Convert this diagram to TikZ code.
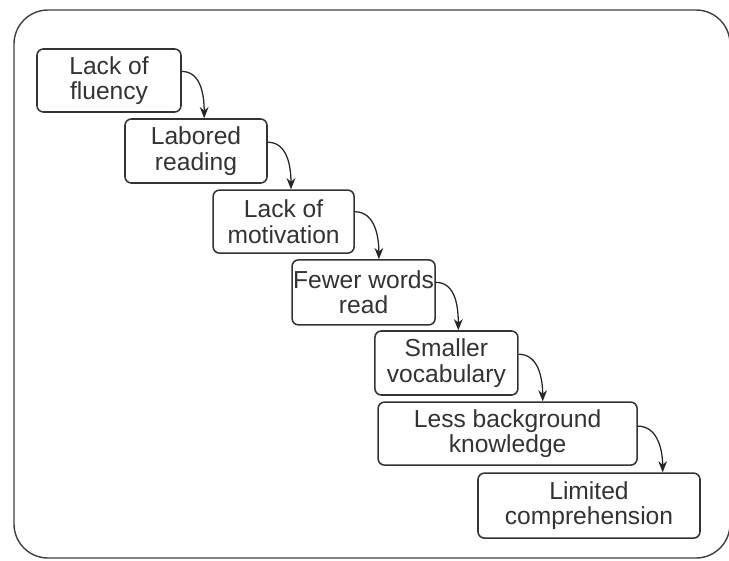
\documentclass[tikz,border=0pt]{standalone}
\usepackage{fontspec}
\setmainfont{Liberation Sans}
\usepackage{tikz}
\usetikzlibrary{arrows.meta}
\usetikzlibrary{calc}

\tikzset{
stepbox/.style={draw=black!80, line width=1.1pt, rounded corners=0.16cm, fill=white,
  align=center, text=black!80, inner sep=0pt, font=\fontsize{17.5}{18}\selectfont},
flow/.style={black!85, line width=0.9pt, -{Stealth[length=2.8mm,width=2.2mm]}}
}

\begin{document}
\begin{tikzpicture}

\useasboundingbox (0,0) rectangle (18.225,-14);

% frame
\draw[black!75, line width=1pt, rounded corners=0.85cm] (0.35,-0.25) rectangle (18.25,-13.95);

% nodes
{
\node[stepbox, minimum width=3.6cm, minimum height=1.575cm] (fluency) at (2.725,-2.0125)
{Lack of\\fluency};
\node[stepbox, minimum width=3.55cm, minimum height=1.6cm] (labored) at (4.9,-3.775)
{Labored\\reading};
\node[stepbox, minimum width=3.525cm, minimum height=1.575cm] (motivation) at (7.09,-5.54)
{Lack of\\motivation};
\node[stepbox, minimum width=3.575cm, minimum height=1.625cm] (fewer) at (9.09,-7.31)
{Fewer words\\read};
\node[stepbox, minimum width=3.575cm, minimum height=1.6cm] (vocab) at (11.16,-9.075)
{Smaller\\vocabulary};
\node[stepbox, minimum width=6.475cm, minimum height=1.575cm] (background) at (12.69,-10.84)
{Less background\\knowledge};
\node[stepbox, minimum width=5.55cm, minimum height=1.625cm] (limited) at (14.725,-12.64)
{Limited\\comprehension};
}

% arrows
\draw[flow] ([yshift=-0.58cm]fluency.north east) to[out=0,in=90] ($(fluency.east |- labored.north)+(0.56,0)$);
\draw[flow] ([yshift=-0.6cm]labored.north east) to[out=0,in=90] ($(labored.east |- motivation.north)+(0.58,0)$);
\draw[flow] ([yshift=-0.56cm]motivation.north east) to[out=0,in=90] ($(motivation.east |- fewer.north)+(0.6,0)$);
\draw[flow] ([yshift=-0.58cm]fewer.north east) to[out=0,in=90] ($(fewer.east |- vocab.north)+(0.56,0)$);
\draw[flow] ([yshift=-0.6cm]vocab.north east) to[out=0,in=90] ($(vocab.east |- background.north)+(0.6,0)$);
\draw[flow] ([yshift=-0.62cm]background.north east) to[out=0,in=90] ($(background.east |- limited.north)+(0.62,0)$);

\end{tikzpicture}
\end{document}
